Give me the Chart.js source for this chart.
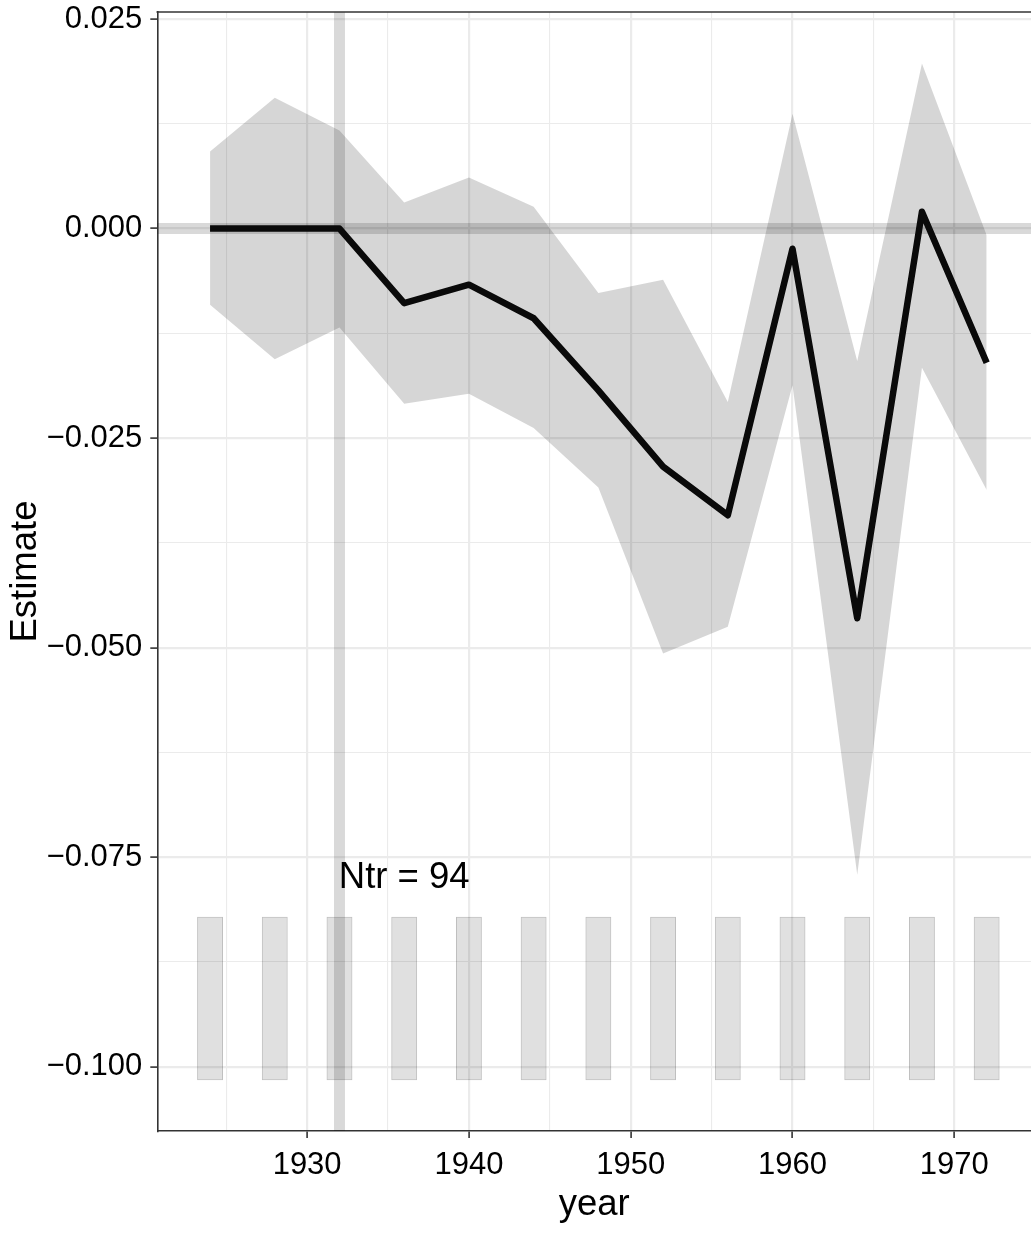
<!DOCTYPE html>
<html>
<head>
<meta charset="utf-8">
<title>Estimate by year</title>
<script src="https://cdn.jsdelivr.net/npm/chart.js@4/dist/chart.umd.min.js"></script>
<style>
  html, body { margin: 0; padding: 0; background: #ffffff; overflow: hidden; }
  #wrap { width: 1031px; height: 1235px; }
</style>
</head>
<body>
<div id="wrap"><canvas id="c" width="1031" height="1235"></canvas></div>
<script>
// ---- data ----
const years    = [1924, 1928, 1932, 1936, 1940, 1944, 1948, 1952, 1956, 1960, 1964, 1968, 1972];
const estimate = [0, 0, 0, -0.0089, -0.0067, -0.0107, -0.0193, -0.0284, -0.0342, -0.0024, -0.0465, 0.0020, -0.0160];
const ciUpper  = [0.0092, 0.0156, 0.0117, 0.0031, 0.0061, 0.0026, -0.0077, -0.0061, -0.0207, 0.0137, -0.0158, 0.0197, -0.0008];
const ciLower  = [-0.0091, -0.0156, -0.0118, -0.0209, -0.0197, -0.0238, -0.0309, -0.0507, -0.0475, -0.0187, -0.0771, -0.0166, -0.0312];

// treated-count bars drawn along the bottom of the panel
const barLow   = [-0.1016, -0.1016, -0.1016, -0.1016, -0.1016, -0.1016, -0.1016, -0.1016, -0.1016, -0.1016, -0.1016, -0.1016, -0.1016];
const barHigh  = [-0.0821, -0.0821, -0.0821, -0.0821, -0.0821, -0.0821, -0.0821, -0.0821, -0.0821, -0.0821, -0.0821, -0.0821, -0.0821];
const barWidthYears = 1.6;

// reference lines and annotation
const treatYear = 1932;
const zeroLevel = 0;
const noteText  = 'Ntr = 94';
const noteYear  = 1936;
const noteLevel = -0.0775;

// axes
const xRange = [1920.74, 1974.74];
const yRange = [-0.10767, 0.02584];
const xMajorTicks = [1930, 1940, 1950, 1960, 1970];
const xMinorTicks = [1925, 1935, 1945, 1955, 1965];
const yMajorTicks = [-0.1, -0.075, -0.05, -0.025, 0, 0.025];
const yMinorTicks = [-0.0875, -0.0625, -0.0375, -0.0125, 0.0125];
const yTickLabels = ['\u22120.100', '\u22120.075', '\u22120.050', '\u22120.025', '0.000', '0.025'];
const xTitle = 'year';
const yTitle = 'Estimate';

const FONT = "'Liberation Sans', Arial, Helvetica, sans-serif";
const AXIS_DARK = '#333333';
const GRID = '#ebebeb';

function isMajor(list, v) { return list.some(m => Math.abs(m - v) < 1e-9); }

const refLines = {
  id: 'refLines',
  beforeDatasetsDraw(chart) {
    const {ctx, chartArea: a, scales: {x, y}} = chart;
    ctx.save();
    ctx.beginPath();
    ctx.rect(a.left, a.top, a.right - a.left, a.bottom - a.top);
    ctx.clip();
    ctx.strokeStyle = 'rgba(0,0,0,0.15)';
    ctx.lineWidth = 11;
    const py = y.getPixelForValue(zeroLevel);
    ctx.beginPath(); ctx.moveTo(a.left, py); ctx.lineTo(a.right, py); ctx.stroke();
    const px = x.getPixelForValue(treatYear);
    ctx.beginPath(); ctx.moveTo(px, a.top); ctx.lineTo(px, a.bottom); ctx.stroke();
    ctx.restore();
  },
  afterDatasetsDraw(chart) {
    const {ctx, scales: {x, y}} = chart;
    ctx.save();
    ctx.fillStyle = '#000000';
    ctx.font = '36.5px ' + FONT;
    ctx.textAlign = 'center';
    ctx.textBaseline = 'middle';
    ctx.fillText(noteText, x.getPixelForValue(noteYear), y.getPixelForValue(noteLevel));
    ctx.restore();
  },
  afterDraw(chart) {
    const {ctx, chartArea: a} = chart;
    ctx.save();
    ctx.strokeStyle = AXIS_DARK;
    ctx.lineWidth = 1.6;
    ctx.beginPath(); ctx.moveTo(a.left - 0.8, a.top); ctx.lineTo(a.right, a.top); ctx.stroke();
    ctx.restore();
  }
};

const pts = arr => years.map((yr, i) => ({x: yr, y: arr[i]}));

new Chart(document.getElementById('c'), {
  type: 'line',
  data: {
    datasets: [
      {
        label: 'Estimate',
        data: pts(estimate),
        borderColor: '#0a0a0a',
        borderWidth: 6.5,
        borderJoinStyle: 'round',
        borderCapStyle: 'butt',
        pointRadius: 0,
        tension: 0,
        fill: false
      },
      {
        label: 'upper',
        data: pts(ciUpper),
        borderColor: 'transparent',
        borderWidth: 0,
        pointRadius: 0,
        tension: 0,
        fill: '+1',
        backgroundColor: 'rgba(0,0,0,0.16)'
      },
      {
        label: 'lower',
        data: pts(ciLower),
        borderColor: 'transparent',
        borderWidth: 0,
        pointRadius: 0,
        tension: 0,
        fill: false
      },
      {
        type: 'bar',
        label: 'treated',
        data: years.map((yr, i) => ({x: yr, y: [barLow[i], barHigh[i]]})),
        backgroundColor: 'rgba(0,0,0,0.12)',
        borderColor: 'rgba(0,0,0,0.25)',
        borderWidth: 1,
        borderSkipped: false,
        categoryPercentage: 1,
        barPercentage: barWidthYears / 4
      }
    ]
  },
  options: {
    responsive: false,
    animation: false,
    events: [],
    layout: { padding: { top: 12, right: 0, left: 0, bottom: 0 } },
    plugins: { legend: { display: false }, tooltip: { enabled: false } },
    scales: {
      x: {
        type: 'linear',
        offset: false,
        min: xRange[0],
        max: xRange[1],
        afterBuildTicks(scale) {
          scale.ticks = [...xMinorTicks, ...xMajorTicks].sort((a, b) => a - b).map(v => ({value: v}));
        },
        afterFit(scale) {
          scale.height = 104;
          scale.paddingLeft = 0; scale.paddingRight = 0;
        },
        grid: {
          offset: false,
          color: GRID,
          lineWidth: c => (c.tick && isMajor(xMajorTicks, c.tick.value)) ? 2.2 : 1.1,
          tickColor: c => (c.tick && isMajor(xMajorTicks, c.tick.value)) ? AXIS_DARK : 'rgba(0,0,0,0)',
          tickLength: 7,
          tickWidth: 1.6
        },
        border: { color: AXIS_DARK, width: 1.6 },
        ticks: {
          autoSkip: false,
          maxRotation: 0,
          padding: 9,
          color: '#000000',
          font: { family: FONT, size: 31 },
          callback: v => isMajor(xMajorTicks, v) ? String(v) : ''
        },
        title: {
          display: true,
          text: xTitle,
          color: '#000000',
          font: { family: FONT, size: 36.5 },
          padding: { top: 0, bottom: 8 }
        }
      },
      y: {
        type: 'linear',
        min: yRange[0],
        max: yRange[1],
        afterBuildTicks(scale) {
          scale.ticks = [...yMinorTicks, ...yMajorTicks].sort((a, b) => a - b).map(v => ({value: v}));
        },
        afterFit(scale) {
          scale.width = 157.3;
          scale.paddingTop = 0; scale.paddingBottom = 0;
        },
        grid: {
          color: GRID,
          lineWidth: c => (c.tick && isMajor(yMajorTicks, c.tick.value)) ? 2.2 : 1.1,
          tickColor: c => (c.tick && isMajor(yMajorTicks, c.tick.value)) ? AXIS_DARK : 'rgba(0,0,0,0)',
          tickLength: 7,
          tickWidth: 1.6
        },
        border: { color: AXIS_DARK, width: 1.6 },
        ticks: {
          autoSkip: false,
          padding: 8,
          color: '#000000',
          font: { family: FONT, size: 31 },
          callback: v => {
            const k = yMajorTicks.findIndex(m => Math.abs(m - v) < 1e-9);
            return k >= 0 ? yTickLabels[k] : '';
          }
        },
        title: {
          display: true,
          text: yTitle,
          color: '#000000',
          font: { family: FONT, size: 36.5 },
          padding: { top: 4, bottom: 0 }
        }
      }
    }
  },
  plugins: [refLines]
});
</script>
</body>
</html>
